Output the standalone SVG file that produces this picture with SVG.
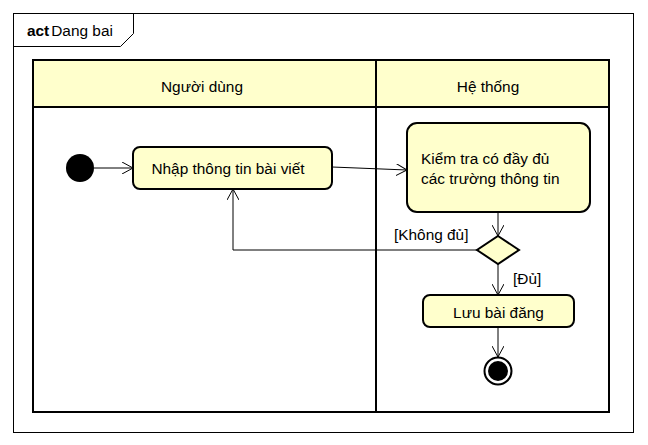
<svg xmlns="http://www.w3.org/2000/svg" width="648" height="445" viewBox="0 0 648 445">
<style>
text{font-family:"Liberation Sans",Arial,sans-serif;font-size:15.4px;fill:#000}
.node{fill:#FFFFCC;stroke:#000;stroke-width:2}
.lane{fill:none;stroke:#000;stroke-width:2}
.conn{fill:none;stroke:#000;stroke-width:1}
</style>
<defs>
<marker id="arr" viewBox="0 0 12 12" markerWidth="12" markerHeight="12" refX="11" refY="6" orient="auto" markerUnits="userSpaceOnUse">
<path d="M0,0 L11,6 L0,12" fill="none" stroke="#000" stroke-width="1"/>
</marker>
</defs>
<rect x="0" y="0" width="648" height="445" fill="#fff"/>
<g id="frame">
<rect x="13.5" y="13.5" width="620" height="419" fill="#fff" stroke="#000" stroke-width="1"/>
<path d="M13.5,46.5 L120.5,46.5 L133.5,33.5 L133.5,13.5" fill="none" stroke="#000" stroke-width="1"/>
<text x="27" y="36"><tspan font-weight="bold">act</tspan><tspan dx="2">Dang bai</tspan></text>
</g>
<g id="swimlanes">
<rect x="33" y="60" width="343" height="47" fill="#FFFFCC"/>
<rect x="376" y="60" width="233" height="47" fill="#FFFFCC"/>
<rect class="lane" x="33" y="60" width="576" height="352"/>
<line class="lane" x1="33" y1="107" x2="609" y2="107"/>
<line class="lane" x1="376" y1="60" x2="376" y2="412"/>
<text x="202" y="92" text-anchor="middle">Người dùng</text>
<text x="488" y="92" text-anchor="middle">Hệ thống</text>
</g>
<g id="connectors">
<line class="conn" x1="94" y1="168" x2="133" y2="168" marker-end="url(#arr)"/>
<line class="conn" x1="332" y1="167" x2="407" y2="170" marker-end="url(#arr)"/>
<line class="conn" x1="498" y1="212" x2="498" y2="236" marker-end="url(#arr)"/>
<polyline class="conn" points="477,250 233,250 233,189" marker-end="url(#arr)"/>
<line class="conn" x1="498" y1="264" x2="498" y2="295" marker-end="url(#arr)"/>
<line class="conn" x1="498" y1="327" x2="498" y2="357" marker-end="url(#arr)"/>
<text x="394" y="240">[Không đủ]</text>
<text x="513" y="284">[Đủ]</text>
</g>
<g id="start">
<circle cx="80" cy="168" r="14" fill="#000"/>
</g>
<g id="nhap">
<rect class="node" x="133" y="147" width="199" height="42" rx="7"/>
<text x="228" y="174" text-anchor="middle">Nhập thông tin bài viết</text>
</g>
<g id="kiemtra">
<rect class="node" x="407" y="123" width="183" height="89" rx="10"/>
<text x="421" y="164">Kiểm tra có đầy đủ</text>
<text x="421" y="184">các trường thông tin</text>
</g>
<g id="decision">
<polygon class="node" points="498,236 519,250 498,264 477,250"/>
</g>
<g id="luu">
<rect class="node" x="423" y="295" width="151" height="32" rx="7"/>
<text x="498.5" y="318" text-anchor="middle">Lưu bài đăng</text>
</g>
<g id="end">
<circle cx="498" cy="371" r="13.5" fill="#fff" stroke="#000" stroke-width="2"/>
<circle cx="498" cy="371" r="10" fill="#000"/>
</g>
</svg>
